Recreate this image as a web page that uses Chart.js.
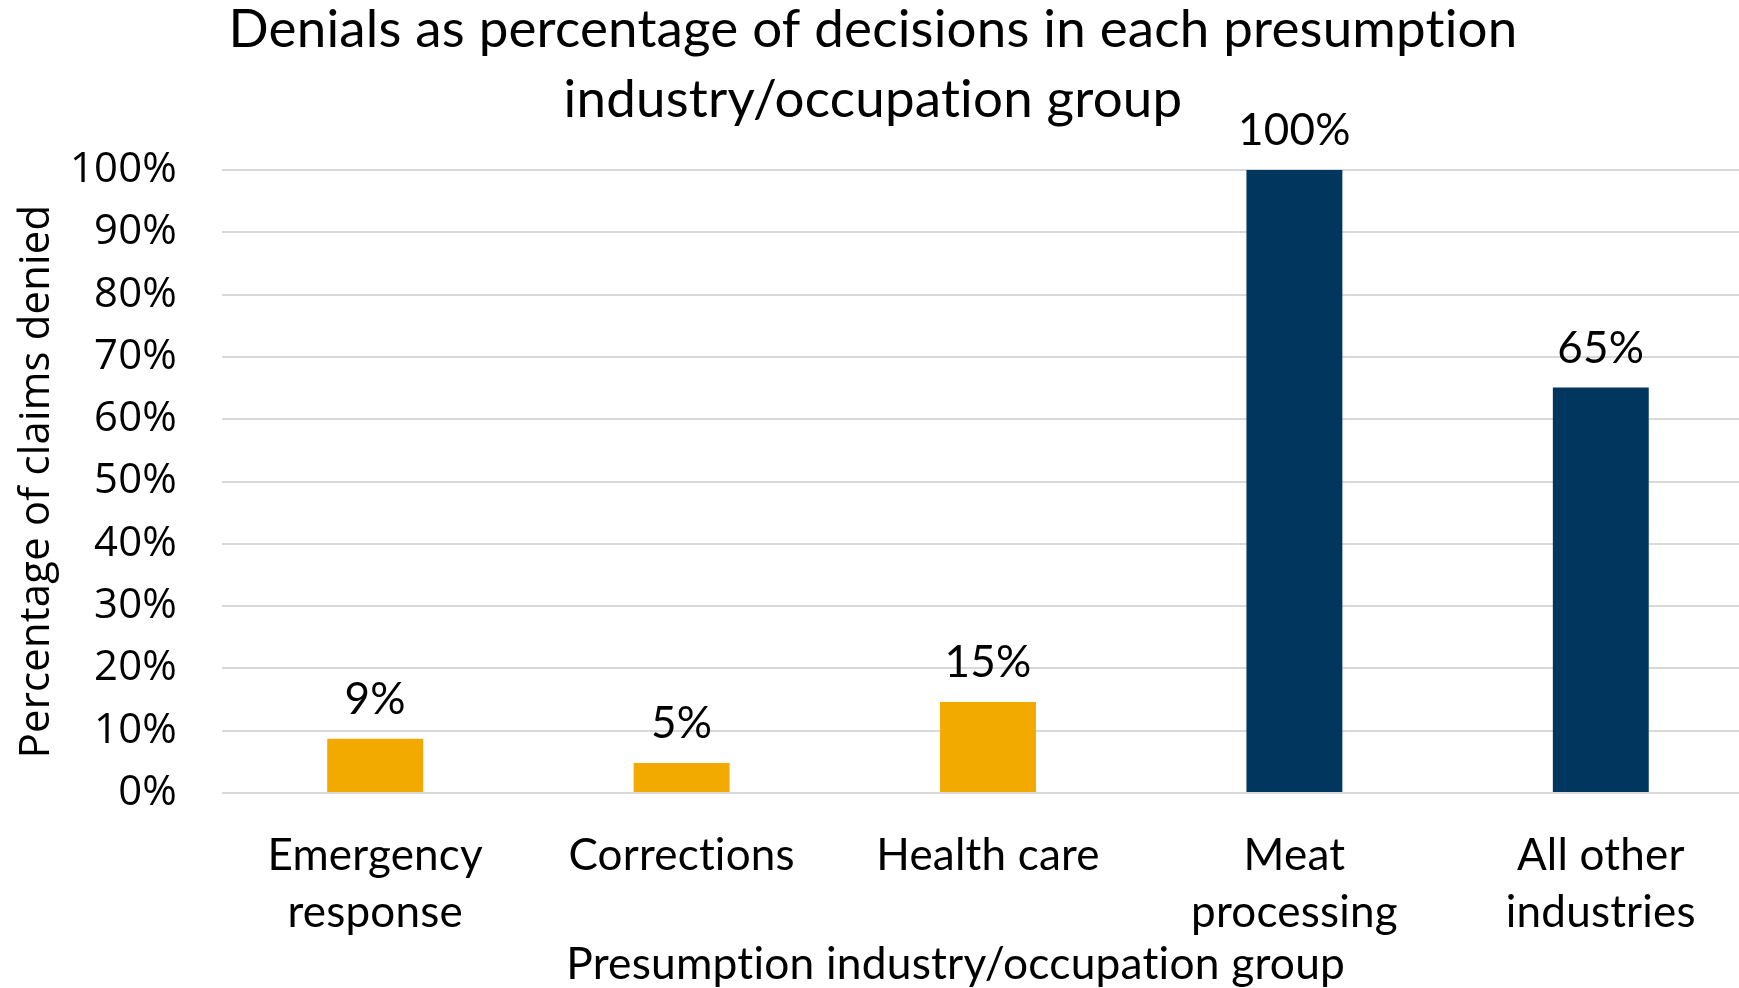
<!DOCTYPE html>
<html><head><meta charset="utf-8">
<script src="https://cdn.jsdelivr.net/npm/chart.js@4.4.1/dist/chart.umd.min.js"></script>
<style>
html,body{margin:0;padding:0;overflow:hidden;background:#fff;width:1739px;height:988px}
#wrap{position:absolute;left:0;top:0;width:1754px;height:988px}
</style>
</head><body><div id="wrap"><canvas id="c"></canvas></div>
<script>
const categories = [["Emergency","response"],"Corrections","Health care",["Meat","processing"],["All other","industries"]];
const values = [8.7, 4.8, 14.6, 100, 65.1];
const valueLabels = ["9%","5%","15%","100%","65%"];
const barColors = ["#F2A900","#F2A900","#F2A900","#01365F","#01365F"];
const titleLines = ["Denials as percentage of decisions in each presumption","industry/occupation group"];
const xTitle = "Presumption industry/occupation group";
const yTitle = "Percentage of claims denied";

const LABEL_FONT = "Lato";

const overlay = {
  id: 'overlay',
  beforeDraw(chart) {
    if ('letterSpacing' in chart.ctx) chart.ctx.letterSpacing = '0.2px';
  },
  afterDatasetsDraw(chart) {
    const ctx = chart.ctx;
    const meta = chart.getDatasetMeta(0);
    ctx.save();
    ctx.fillStyle = '#000';
    ctx.textAlign = 'center';
    ctx.textBaseline = 'middle';
    ctx.font = '44px ' + LABEL_FONT;
    meta.data.forEach((bar, i) => {
      ctx.fillText(valueLabels[i], bar.x, bar.y - 39);
    });
    const ca = chart.chartArea;
    ctx.font = '44.3px ' + LABEL_FONT;
    ctx.fillText(xTitle, ca.left + 0.4789 * (ca.right - ca.left), 965);
    ctx.font = '52.9px ' + LABEL_FONT;
    titleLines.forEach((t, i) => ctx.fillText(t, 873, 30 + i * 70));
    ctx.restore();
  }
};

new Chart(document.getElementById('c'), {
  type: 'bar',
  data: {
    labels: categories,
    datasets: [{
      data: values,
      backgroundColor: barColors,
      borderWidth: 0,
      barPercentage: 0.313,
      categoryPercentage: 1.0
    }]
  },
  options: {
    responsive: true,
    maintainAspectRatio: false,
    devicePixelRatio: 1,
    animation: false,
    layout: { padding: { top: 170, left: 0, right: 0, bottom: 0 } },
    plugins: { legend: { display: false }, title: { display: false }, tooltip: { enabled: false } },
    scales: {
      x: {
        grid: { display: false, drawTicks: false },
        border: { display: false },
        ticks: {
          color: '#000',
          font: { family: LABEL_FONT, size: 44, lineHeight: 1.295 },
          padding: 34,
          maxRotation: 0,
          autoSkip: false
        },
        afterFit(scale) { scale.height = 195; }
      },
      y: {
        min: 0, max: 100,
        grid: { color: '#d9d9d9', lineWidth: 2, drawTicks: false },
        border: { display: false },
        ticks: {
          stepSize: 10,
          color: '#000',
          font: { family: "Open Sans", size: 41.8 },
          padding: 45,
          callback: v => v + '%'
        },
        title: {
          display: true,
          text: yTitle,
          color: '#000',
          font: { family: "Open Sans", size: 41.8, lineHeight: 1.2 },
          padding: { top: 12, bottom: 0 }
        },
        afterFit(scale) { scale.width = 222; }
      }
    }
  },
  plugins: [overlay]
});
</script>
</body></html>
